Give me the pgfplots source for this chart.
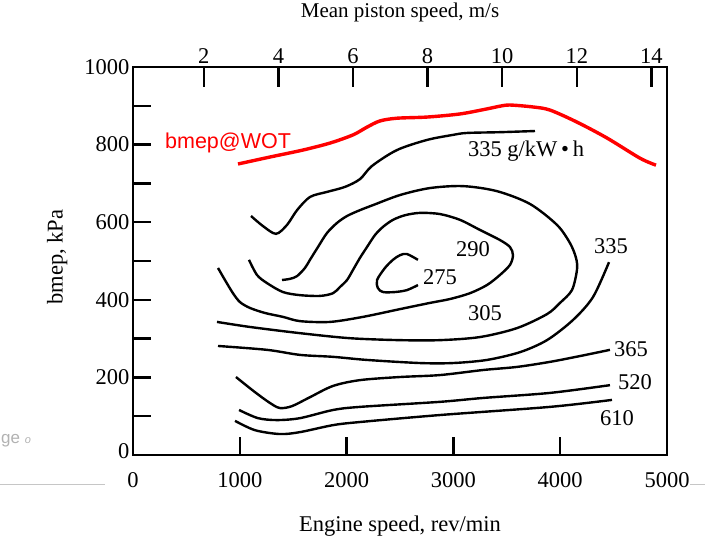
\documentclass[border=0pt]{standalone}
\usepackage{fontspec}
\setmainfont{Liberation Serif}
\newfontfamily\arialfont{Liberation Sans}
\usepackage{pgfplots}
\pgfplotsset{compat=1.18}
\newcommand{\lblfont}{\fontsize{22.5bp}{26bp}\selectfont}
\newcommand{\redfont}{\arialfont\fontsize{21.5bp}{25bp}\selectfont}
\begin{document}
\begin{tikzpicture}
\useasboundingbox (0,0) rectangle (705bp,544bp);
\draw[gray!45, line width=0.8bp] (0,60bp) -- (105bp,60bp);
\draw[gray!45, line width=0.8bp] (690bp,60bp) -- (705bp,60bp);
\node[anchor=west, text=gray!60, font=\arialfont\fontsize{17bp}{20bp}\selectfont, inner sep=0pt] at (1bp,103bp) {ge {\fontsize{11bp}{12bp}\selectfont\itshape o}};
\begin{axis}[
  at={(133bp,89bp)}, anchor=south west,
  scale only axis, width=534bp, height=388bp,
  xmin=0, xmax=5000, ymin=0, ymax=1000,
  xtick={0,1000,...,5000}, ytick={0,200,...,1000},
  yticklabels={\raisebox{8bp}{0},200,400,600,800,1000},
  minor ytick={100,300,...,900},
  xtick pos=bottom, ytick pos=left,
  tick align=inside,
  major tick length=18bp, minor tick length=18bp,
  axis line style={line width=2.6bp},
  every tick/.style={line width=2.4bp, black},
  font=\lblfont,
  tick label style={font=\lblfont},
  /pgf/number format/assume math mode=true,
  /pgf/number format/1000 sep={},
  xticklabel style={yshift=-14bp},
  xlabel={Engine speed, rev/min},
  xlabel style={at={(axis description cs:0.5,-0.183)}, anchor=center, font=\lblfont},
  ylabel={bmep, kPa},
  ylabel style={at={(axis description cs:-0.142,0.51)}, anchor=center, font=\lblfont},
  clip=false,
]
% bmep at WOT
\addplot[red, line width=3.4bp, smooth] coordinates {
(983,750) (1283,768) (1592,786) (1845,804) (2060,825) (2191,845) (2313,861) (2472,868)
(2753,871) (3062,879) (3314,892) (3436,899) (3530,902) (3745,897) (3904,889) (4157,858)
(4438,817) (4747,765) (4897,747)};
% 335 upper
\addplot[black, line width=2.4bp, smooth] coordinates {
(1105,616) (1217,590) (1339,570) (1442,593) (1536,631) (1657,665) (1816,678) (1985,691)
(2125,711) (2238,745) (2472,786) (2753,812) (2996,825) (3127,830) (3436,832) (3764,835)};
% 305 loop
\addplot[black, line width=2.4bp, smooth] coordinates {
(1395,451) (1470,454) (1536,461) (1610,482) (1657,503) (1732,536) (1816,572) (1910,598)
(2004,616) (2125,631) (2247,644) (2500,670) (2781,688) (3090,693) (3408,680) (3717,647)
(3970,593) (4092,546) (4148,508) (4157,477) (4110,425) (3998,392) (3876,363) (3595,327)
(3249,304) (2874,296) (2500,296) (2032,301) (1564,314) (1095,330) (786,343)};
% 290 loop
\addplot[black, line width=2.4bp, smooth] coordinates {
(1086,503) (1161,464) (1255,443) (1404,420) (1564,412) (1751,410) (1873,417) (1938,433)
(2004,451) (2060,477) (2125,508) (2191,536) (2266,567) (2341,588) (2434,606) (2547,618)
(2687,624) (2874,621) (3062,606) (3249,580) (3436,554) (3530,536) (3558,515) (3530,490)
(3436,464) (3314,438) (3155,417) (2968,402) (2781,392) (2500,376) (2154,356) (1845,343)
(1564,345) (1404,356) (1236,366) (1095,379) (1002,394) (936,417) (861,451) (796,482)};
% 275
\addplot[black, line width=2.4bp, smooth] coordinates {
(2668,503) (2565,518) (2500,515) (2434,503) (2359,482) (2285,451) (2294,430) (2341,420)
(2453,420) (2565,425) (2668,438)};
% 335 lower
\addplot[black, line width=2.4bp, smooth] coordinates {
(796,281) (1255,271) (1564,258) (1873,253) (2191,245) (2687,237) (2996,237) (3314,245)
(3623,265) (3876,296) (4120,348) (4307,407) (4457,497)};
% 365
\addplot[black, line width=2.4bp, smooth] coordinates {
(964,201) (1142,162) (1283,134) (1376,121) (1489,126) (1657,149) (1873,178) (2125,193)
(2500,201) (2874,206) (3277,219) (3595,227) (3904,240) (4185,255) (4466,271)};
% 520
\addplot[black, line width=2.4bp, smooth] coordinates {
(993,116) (1170,95) (1348,90) (1564,95) (1873,116) (2125,124) (2874,137) (3277,147)
(3904,160) (4466,180)};
% 610
\addplot[black, line width=2.4bp, smooth] coordinates {
(955,88) (1142,64) (1376,54) (1564,59) (1873,77) (2125,85) (2874,103) (3904,124) (4485,142)};
\node[text=red, font=\redfont] at (axis cs:890,804) {bmep@WOT};
\node[font=\lblfont] at (axis cs:3680,783) {335 g/kW\,\textbullet\,h};
\node[font=\lblfont] at (axis cs:3183,531) {290};
\node[font=\lblfont] at (axis cs:2874,459) {275};
\node[font=\lblfont] at (axis cs:3296,366) {305};
\node[font=\lblfont] at (axis cs:4475,539) {335};
\node[font=\lblfont] at (axis cs:4663,273) {365};
\node[font=\lblfont] at (axis cs:4700,188) {520};
\node[font=\lblfont] at (axis cs:4532,95) {610};
\end{axis}
\begin{axis}[
  at={(133bp,89bp)}, anchor=south west,
  scale only axis, width=534bp, height=388bp,
  xmin=0.10, xmax=14.42, ymin=0, ymax=1,
  xtick pos=top, xticklabel pos=top, ytick=\empty,
  axis line style={line width=2.6bp},
  xtick={2,4,...,14},
  tick align=inside, major tick length=20bp,
  every tick/.style={line width=2.4bp, black},
  font=\lblfont,
  tick label style={font=\lblfont},
  /pgf/number format/assume math mode=true,
  xlabel={Mean piston speed, m/s},
  xlabel style={at={(axis description cs:0.5,1.140)}, anchor=center, font=\fontsize{21bp}{24bp}\selectfont},
]
\end{axis}
\end{tikzpicture}
\end{document}
